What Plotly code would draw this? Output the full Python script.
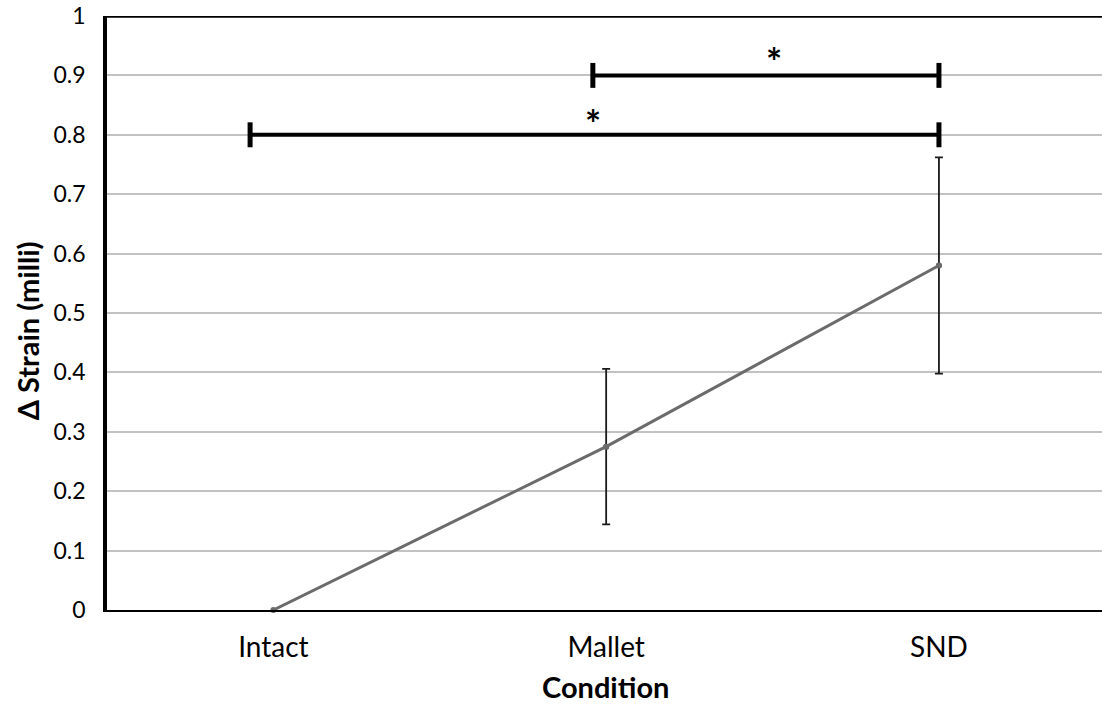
import plotly.graph_objects as go

# Mean change in strain per condition, with error bar half-widths
conditions = ["Intact", "Mallet", "SND"]
delta_strain = [0.0, 0.275, 0.58]
strain_err = [0.0, 0.131, 0.182]

# Significance brackets: x start, x end (category units), y level, star position
brackets = [
    {"x0": 0.96, "x1": 2.0, "y": 0.9, "star_x": 1.505, "star_y": 0.925},
    {"x0": -0.07, "x1": 2.0, "y": 0.8, "star_x": 0.96, "star_y": 0.82},
]

FONT = "Lato"
x_idx = list(range(len(conditions)))

fig = go.Figure()

# Mean line through the three conditions
fig.add_trace(go.Scatter(
    x=x_idx, y=delta_strain, mode="lines+markers",
    line=dict(color="#6b6b6b", width=3),
    marker=dict(color="#6b6b6b", size=6),
    cliponaxis=False, showlegend=False, hoverinfo="skip",
))

# Error bars (only where a spread was measured)
err_x = [x for x, e in zip(x_idx, strain_err) if e > 0]
err_y = [y for y, e in zip(delta_strain, strain_err) if e > 0]
err_v = [e for e in strain_err if e > 0]
fig.add_trace(go.Scatter(
    x=err_x, y=err_y, mode="markers",
    marker=dict(color="#6b6b6b", size=6),
    error_y=dict(type="data", array=err_v, visible=True,
                 color="#1a1a1a", thickness=1.8, width=4),
    showlegend=False, hoverinfo="skip",
))

shapes = []
annotations = []
tick_half = 0.021
for b in brackets:
    shapes.append(dict(type="line", xref="x", yref="y",
                       x0=b["x0"], x1=b["x1"], y0=b["y"], y1=b["y"],
                       line=dict(color="black", width=4)))
    for xe in (b["x0"], b["x1"]):
        shapes.append(dict(type="line", xref="x", yref="y",
                           x0=xe, x1=xe, y0=b["y"] - tick_half, y1=b["y"] + tick_half,
                           line=dict(color="black", width=5)))
    annotations.append(dict(x=b["star_x"], y=b["star_y"], xref="x", yref="y",
                            text="<b>*</b>", showarrow=False,
                            font=dict(family=FONT, size=38, color="black"),
                            xanchor="center", yanchor="middle"))

# Top border of the plot area
shapes.append(dict(type="line", xref="paper", yref="y", x0=0, x1=1, y0=1, y1=1,
                   line=dict(color="black", width=3.5)))

# Axis titles
annotations.append(dict(x=0.5011, y=-0.128, xref="paper", yref="paper",
                        text="<b>Condition</b>", showarrow=False,
                        font=dict(family=FONT, size=29, color="black"),
                        xanchor="center", yanchor="middle"))
annotations.append(dict(x=-0.08, y=0.47, xref="paper", yref="paper",
                        text="<b>\u0394 Strain (milli)</b>", showarrow=False, textangle=-90,
                        font=dict(family=FONT, size=29, color="black"),
                        xanchor="center", yanchor="middle"))

fig.update_layout(
    width=1102, height=705,
    margin=dict(l=107, r=0, t=16, b=95),
    paper_bgcolor="white", plot_bgcolor="white",
    font=dict(family=FONT, color="black"),
    shapes=shapes, annotations=annotations,
    xaxis=dict(range=[-0.5, 2.49], tickvals=x_idx, ticktext=conditions,
               showgrid=False, zeroline=False, showline=True,
               linecolor="black", linewidth=1.5, ticks="",
               tickfont=dict(family=FONT, size=28, color="black"),
               ticklabelstandoff=12),
    yaxis=dict(range=[0, 1], dtick=0.1, tick0=0,
               showgrid=True, gridcolor="#c2c2c2", gridwidth=1.5,
               zeroline=False, showline=True, linecolor="black", linewidth=3.5,
               ticks="", tickfont=dict(family=FONT, size=23, color="black"),
               ticklabelstandoff=13),
)

fig.write_html("out.html")
